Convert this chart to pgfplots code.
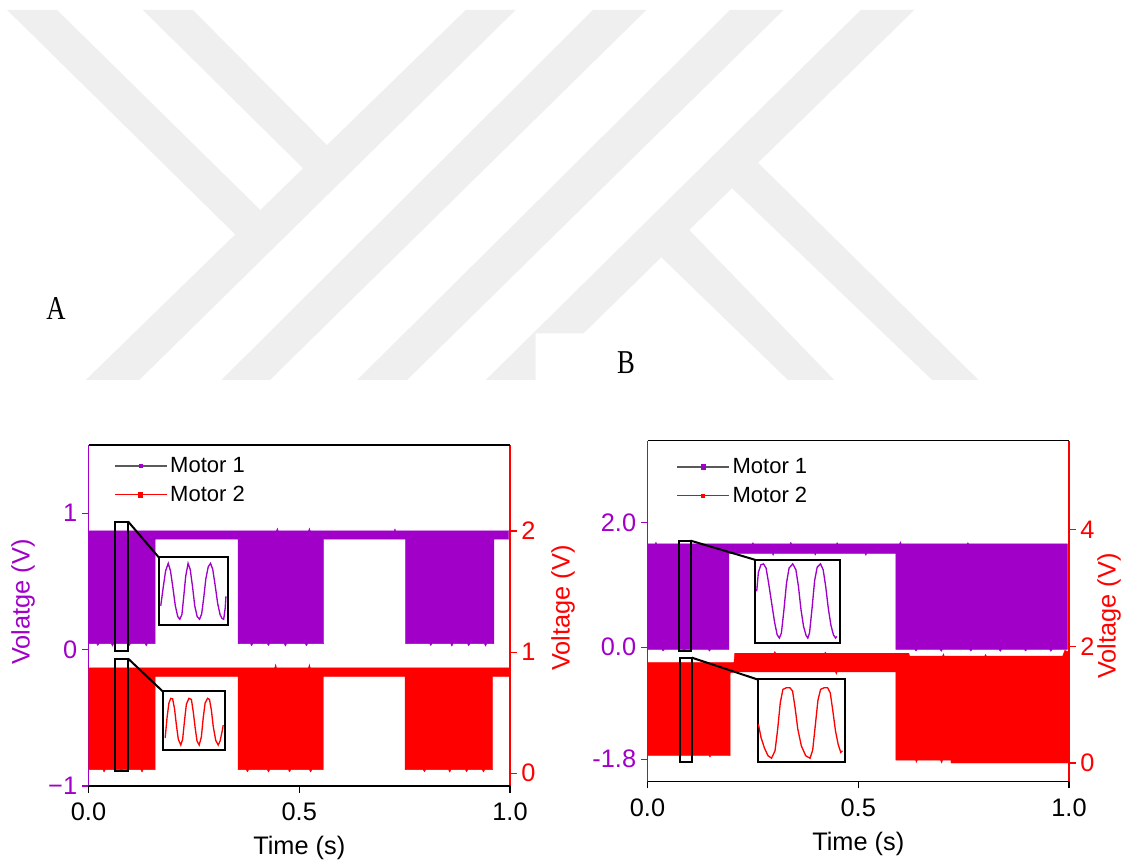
\documentclass[border=0pt]{standalone}
\usepackage{pgfplots}
\pgfplotsset{compat=1.18}
\usepackage{fontspec}
\setmainfont{Liberation Sans}
\newfontfamily\serifA{Liberation Serif}
\definecolor{purp}{RGB}{160,0,200}
\definecolor{wm}{RGB}{239,239,239}
\definecolor{leggray}{RGB}{90,90,90}
\pgfplotsset{
  every non boxed x axis/.style={},
  every non boxed y axis/.style={},
  base/.style={
    scale only axis, width=316.125pt, height=255.75pt,
    xmin=0, xmax=1, anchor=south west,
    tick align=outside, major tick length=5pt,
    xtick={0,0.5,1}, xticklabels={0.0,0.5,1.0},
    /pgf/number format/assume math mode=true,
    ticklabel style={font=\fontsize{19}{21}\selectfont},
    xticklabel style={yshift=-4pt},
    label style={font=\fontsize{19}{21}\selectfont},
    xlabel style={yshift=-5pt},
    axis line style={-, line width=0.8pt},
    minor tick num=0,
  },
  inset/.style={
    scale only axis, anchor=south west,
    xmin=0, xmax=1, ymin=0, ymax=1,
    xtick=\empty, ytick=\empty,
    axis line style={line width=1.5pt, black},
    axis background/.style={fill=white},
  },
  mleg/.style={
    legend style={draw=none, fill=none, anchor=north west,
      font=\fontsize{16.5}{18}\selectfont, row sep=4.5pt,
      cells={anchor=west}},
  },
}
\begin{document}
\begin{tikzpicture}
% ---------- background decoration, labels (pixel frame) ----------
\begin{scope}[shift={(0pt,644.25pt)}, x=0.75pt, y=-0.75pt]
\path[use as bounding box] (0,0) rectangle (1127,859);
\fill[wm] (465.7,10) -- (515.7,10) -- (139.3,380) -- (85.7,380) -- cycle;
\fill[wm] (7.1,10) -- (57.1,10) -- (285.7,235) -- (235.7,235) -- cycle;
\fill[wm] (142.9,10) -- (192.9,10) -- (350,168.3) -- (303,168.3) -- cycle;
\fill[wm] (592.9,10) -- (646.4,10) -- (270,380) -- (221.4,380) -- cycle;
\fill[wm] (730,10) -- (783.6,10) -- (407.1,380) -- (357.1,380) -- cycle;
\fill[wm] (860.7,10) -- (914.3,10) -- (583.6,333.3) -- (535.7,333.3) -- (535.7,380) -- (485.7,380) -- cycle;
\fill[wm] (744.3,163.3) -- (758.6,163.3) -- (978.6,380) -- (932.1,380) -- (732.1,188.3) -- (717.9,188.3) -- cycle;
\fill[wm] (675,230) -- (689.3,230) -- (834.3,380) -- (787.9,380) -- (660.7,256.7) -- (646.4,256.7) -- cycle;
\node[font=\serifA\fontsize{25}{25}\selectfont, xscale=0.8, anchor=base] at (56,320) {A};
\node[font=\serifA\fontsize{25}{25}\selectfont, xscale=0.8, anchor=base] at (626,374) {B};
\node[rotate=90, text=purp, font=\fontsize{19}{21}\selectfont] at (23,602) {Volatge (V)};
\node[rotate=90, text=red, font=\fontsize{19}{21}\selectfont] at (563,608) {Voltage (V)};
\node[rotate=90, text=red, font=\fontsize{19}{21}\selectfont] at (1109,616) {Voltage (V)};
\end{scope}

% ================= PANEL A =================
% Motor 1 (left axis)
\begin{axis}[base, at={(66.375pt,54.75pt)}, hide x axis, axis y line*=left, ytick pos=left,
  ymin=-1, ymax=1.5, ytick={-1,0,1}, yticklabels={−1,0,1},
  y axis line style={purp}, yticklabel style={text=purp}, tick style={purp, line width=0.8pt}]
\addplot[fill=purp, draw=purp, line width=0.3pt] coordinates {
(0,0.87) (0.446,0.87) (0.448,0.89) (0.450,0.87) (0.522,0.87) (0.524,0.89) (0.526,0.87)
(0.725,0.87) (0.727,0.885) (0.729,0.87) (0.997,0.87)
(0.997,0.81) (0.962,0.81) (0.962,0.044)
(0.945,0.044)(0.942,0.025)(0.939,0.044) (0.905,0.044)(0.902,0.028)(0.899,0.044)
(0.865,0.044)(0.862,0.025)(0.859,0.044) (0.815,0.044)(0.812,0.03)(0.809,0.044)
(0.752,0.044) (0.752,0.81) (0.558,0.81) (0.558,0.044)
(0.52,0.044)(0.517,0.028)(0.514,0.044) (0.47,0.044)(0.467,0.025)(0.464,0.044)
(0.43,0.044)(0.427,0.03)(0.424,0.044) (0.39,0.044)(0.387,0.028)(0.384,0.044)
(0.355,0.044) (0.355,0.81) (0.158,0.81) (0.158,0.044)
(0.14,0.044)(0.137,0.027)(0.134,0.044) (0.1,0.044)(0.097,0.03)(0.094,0.044)
(0.06,0.044)(0.057,0.025)(0.054,0.044) (0.025,0.044)(0.022,0.03)(0.019,0.044)
(0,0.044)} -- cycle;
\end{axis}
% Motor 2 (right axis)
\begin{axis}[base, at={(66.375pt,54.75pt)}, hide x axis, axis y line*=right, ytick pos=right,
  yticklabel pos=right, ymin=-0.105, ymax=2.71, ytick={0,1,2}, yticklabels={0,1,2},
  y axis line style={red}, yticklabel style={text=red}, tick style={red, line width=0.8pt}]
\addplot[fill=red, draw=red, line width=0.3pt] coordinates {
(0,0.87) (0.442,0.87)(0.444,0.90)(0.446,0.87) (0.522,0.87)(0.524,0.90)(0.526,0.87) (1.0,0.87)
(1.0,0.80) (0.959,0.80) (0.959,0.03)
(0.94,0.03)(0.937,0.01)(0.934,0.03) (0.90,0.03)(0.897,0.012)(0.894,0.03)
(0.86,0.03)(0.857,0.01)(0.854,0.03) (0.80,0.03)(0.797,0.012)(0.794,0.03)
(0.751,0.03) (0.751,0.80) (0.557,0.80) (0.557,0.03)
(0.53,0.03)(0.527,0.01)(0.524,0.03) (0.48,0.03)(0.477,0.012)(0.474,0.03)
(0.43,0.03)(0.427,0.01)(0.424,0.03) (0.38,0.03)(0.377,0.012)(0.374,0.03)
(0.355,0.03) (0.355,0.80) (0.158,0.80) (0.158,0.03)
(0.13,0.03)(0.127,0.01)(0.124,0.03) (0.08,0.03)(0.077,0.012)(0.074,0.03)
(0.04,0.03)(0.037,0.01)(0.034,0.03)
(0,0.03)} -- cycle;
\end{axis}
% frame, annotations, legend
\begin{axis}[base, mleg, at={(66.375pt,54.75pt)}, hide y axis, ymin=-1, ymax=1.5,
  xtick pos=left, xlabel={Time (s)}, x axis line style={black}, tick style={black, line width=0.8pt},
  legend style={at={(0.05,0.98)}}]
\addlegendimage{legend image code/.code={\draw[leggray, line width=1.3pt] (0pt,0pt) -- (39pt,0pt); \fill[purp] (18.5pt,-1.2pt) rectangle (20.5pt,1.2pt);}}
\addlegendentry{Motor 1}
\addlegendimage{legend image code/.code={\draw[red, line width=1.3pt] (0pt,0pt) -- (39pt,0pt); \fill[red] (18pt,-1.8pt) rectangle (21pt,1.8pt);}}
\addlegendentry{Motor 2}
\draw[line width=1.5pt] (axis cs:0.064,-0.007) rectangle (axis cs:0.094,0.939);
\draw[line width=1.5pt] (axis cs:0.064,-0.893) rectangle (axis cs:0.094,-0.066);
\draw[line width=1.5pt] (axis cs:0.094,0.939) -- (axis cs:0.1665,0.677);
\draw[line width=1.5pt] (axis cs:0.094,-0.066) -- (axis cs:0.176,-0.306);
\coordinate (iA1) at (axis cs:0.1665,0.183);
\coordinate (iA2) at (axis cs:0.176,-0.734);
\end{axis}
\begin{axis}[inset, at={(iA1)}, width=52pt, height=50.5pt]
\addplot[purp, line width=1pt] coordinates {
(0.03,0.28) (0.065,0.55) (0.10,0.80) (0.138,0.91) (0.17,0.80) (0.205,0.55) (0.24,0.28)
(0.275,0.12) (0.305,0.08) (0.335,0.15) (0.36,0.40) (0.39,0.72) (0.424,0.91) (0.455,0.82)
(0.49,0.55) (0.52,0.28) (0.555,0.12) (0.59,0.08) (0.62,0.16) (0.65,0.40) (0.68,0.68)
(0.715,0.86) (0.748,0.91) (0.78,0.82) (0.815,0.58) (0.85,0.32) (0.885,0.15) (0.915,0.09)
(0.938,0.08) (0.96,0.25) (0.97,0.42)};
\end{axis}
\begin{axis}[inset, at={(iA2)}, width=46.8pt, height=43.8pt]
\addplot[red, line width=1pt] coordinates {
(0.04,0.20) (0.07,0.55) (0.10,0.80) (0.13,0.88) (0.16,0.87) (0.19,0.70) (0.22,0.42)
(0.25,0.18) (0.29,0.08) (0.32,0.18) (0.35,0.50) (0.38,0.78) (0.42,0.88) (0.46,0.86)
(0.49,0.65) (0.52,0.38) (0.55,0.15) (0.585,0.08) (0.62,0.22) (0.65,0.55) (0.68,0.80)
(0.72,0.88) (0.75,0.86) (0.78,0.68) (0.81,0.40) (0.85,0.16) (0.89,0.08) (0.92,0.15)
(0.95,0.30) (0.97,0.42)};
\end{axis}

% ================= PANEL B =================
\begin{axis}[base, at={(485.625pt,57.975pt)}, hide x axis, axis y line*=left, ytick pos=left,
  ymin=-2.16, ymax=3.31, ytick={-1.8,0,2}, yticklabels={-1.8,0.0,2.0},
  y axis line style={purp}, yticklabel style={text=purp}, tick style={purp, line width=0.8pt}]
\addplot[fill=purp, draw=purp, line width=0.3pt] coordinates {
(0,1.654) (0.018,1.654)(0.02,1.68)(0.022,1.654) (0.248,1.654)(0.25,1.675)(0.252,1.654)
(0.338,1.654)(0.34,1.68)(0.342,1.654) (0.448,1.654)(0.45,1.675)(0.452,1.654)
(0.598,1.654)(0.60,1.69)(0.602,1.654) (0.758,1.654)(0.76,1.675)(0.762,1.654) (0.996,1.654)
(0.996,-0.04)
(0.96,-0.04)(0.957,-0.07)(0.954,-0.04) (0.90,-0.04)(0.897,-0.065)(0.894,-0.04)
(0.84,-0.04)(0.837,-0.07)(0.834,-0.04) (0.77,-0.04)(0.767,-0.065)(0.764,-0.04)
(0.70,-0.04)(0.697,-0.07)(0.694,-0.04) (0.64,-0.04)(0.637,-0.065)(0.634,-0.04)
(0.589,-0.04) (0.589,1.50)
(0.52,1.50)(0.518,1.47)(0.516,1.50) (0.40,1.50)(0.398,1.475)(0.396,1.50)
(0.30,1.50)(0.298,1.47)(0.296,1.50)
(0.193,1.50) (0.193,-0.04)
(0.15,-0.04)(0.147,-0.065)(0.144,-0.04) (0.09,-0.04)(0.087,-0.06)(0.084,-0.04)
(0.04,-0.04)(0.037,-0.065)(0.034,-0.04)
(0,-0.04)} -- cycle;
\end{axis}
\begin{axis}[base, at={(485.625pt,57.975pt)}, hide x axis, axis y line*=right, ytick pos=right,
  yticklabel pos=right, ymin=-0.32, ymax=5.52, ytick={0,2,4}, yticklabels={0,2,4},
  y axis line style={red}, yticklabel style={text=red}, tick style={red, line width=0.8pt}]
\addplot[fill=red, draw=red, line width=0.3pt] coordinates {
(0,1.72) (0.205,1.72) (0.207,1.88) (0.300,1.88)(0.302,1.91)(0.304,1.88)
(0.420,1.88)(0.422,1.90)(0.424,1.88) (0.589,1.88) (0.62,1.88) (0.622,1.83)
(0.70,1.83)(0.702,1.87)(0.704,1.83) (0.80,1.83)(0.802,1.86)(0.804,1.83)
(0.985,1.83)(0.99,1.93)(1.0,1.90)
(1.0,0.0) (0.72,0.0) (0.72,0.05)
(0.70,0.05)(0.698,0.0)(0.695,0.05) (0.64,0.05)(0.638,0.01)(0.636,0.05)
(0.589,0.05) (0.589,1.56)
(0.45,1.56)(0.448,1.52)(0.446,1.56) (0.205,1.56) (0.196,1.54) (0.196,0.125)
(0.15,0.125)(0.148,0.10)(0.146,0.125) (0.08,0.125)(0.078,0.10)(0.076,0.125)
(0,0.125)} -- cycle;
\end{axis}
\begin{axis}[base, mleg, at={(485.625pt,57.975pt)}, hide y axis, ymin=-2.16, ymax=3.31,
  xtick pos=left, xlabel={Time (s)}, x axis line style={black}, tick style={black, line width=0.8pt},
  legend style={at={(0.058,0.965)}}]
\addlegendimage{legend image code/.code={\draw[leggray, line width=1.3pt] (0pt,0pt) -- (39pt,0pt); \fill[purp] (18pt,-1.8pt) rectangle (21pt,1.8pt);}}
\addlegendentry{Motor 1}
\addlegendimage{legend image code/.code={\draw[red, line width=1.3pt] (0pt,0pt) -- (39pt,0pt); \fill[red] (18.5pt,-1.2pt) rectangle (20.5pt,1.2pt);}}
\addlegendentry{Motor 2}
\draw[line width=1.5pt] (axis cs:0.0745,-0.07) rectangle (axis cs:0.102,1.707);
\draw[line width=1.5pt] (axis cs:0.077,-1.85) rectangle (axis cs:0.105,-0.17);
\draw[line width=1.5pt] (axis cs:0.102,1.707) -- (axis cs:0.255,1.40);
\draw[line width=1.5pt] (axis cs:0.105,-0.17) -- (axis cs:0.261,-0.52);
\coordinate (iB1) at (axis cs:0.255,0.064);
\coordinate (iB2) at (axis cs:0.261,-1.85);
\end{axis}
\begin{axis}[inset, at={(iB1)}, width=63.9pt, height=62.5pt]
\addplot[purp, line width=1pt] coordinates {
(0.02,0.62) (0.04,0.85) (0.07,0.94) (0.10,0.95) (0.13,0.90) (0.16,0.72) (0.20,0.45)
(0.23,0.25) (0.26,0.10) (0.286,0.06) (0.31,0.12) (0.34,0.40) (0.37,0.72) (0.40,0.90)
(0.443,0.95) (0.48,0.88) (0.51,0.68) (0.54,0.40) (0.57,0.20) (0.60,0.09) (0.62,0.06)
(0.64,0.12) (0.67,0.42) (0.70,0.75) (0.73,0.91) (0.769,0.95) (0.80,0.88) (0.83,0.68)
(0.86,0.42) (0.89,0.22) (0.92,0.10) (0.945,0.06) (0.96,0.08)};
\end{axis}
\begin{axis}[inset, at={(iB2)}, width=65.7pt, height=62.2pt]
\addplot[red, line width=1pt] coordinates {
(0.01,0.46) (0.04,0.30) (0.08,0.17) (0.12,0.08) (0.16,0.05) (0.20,0.14) (0.23,0.40)
(0.26,0.72) (0.29,0.88) (0.33,0.90) (0.37,0.90) (0.40,0.86) (0.43,0.65) (0.46,0.40)
(0.50,0.20) (0.55,0.08) (0.60,0.05) (0.63,0.15) (0.66,0.45) (0.69,0.75) (0.72,0.88)
(0.76,0.90) (0.80,0.90) (0.83,0.84) (0.86,0.62) (0.89,0.38) (0.92,0.22) (0.95,0.12)
(0.97,0.14)};
\end{axis}
\end{tikzpicture}
\end{document}
